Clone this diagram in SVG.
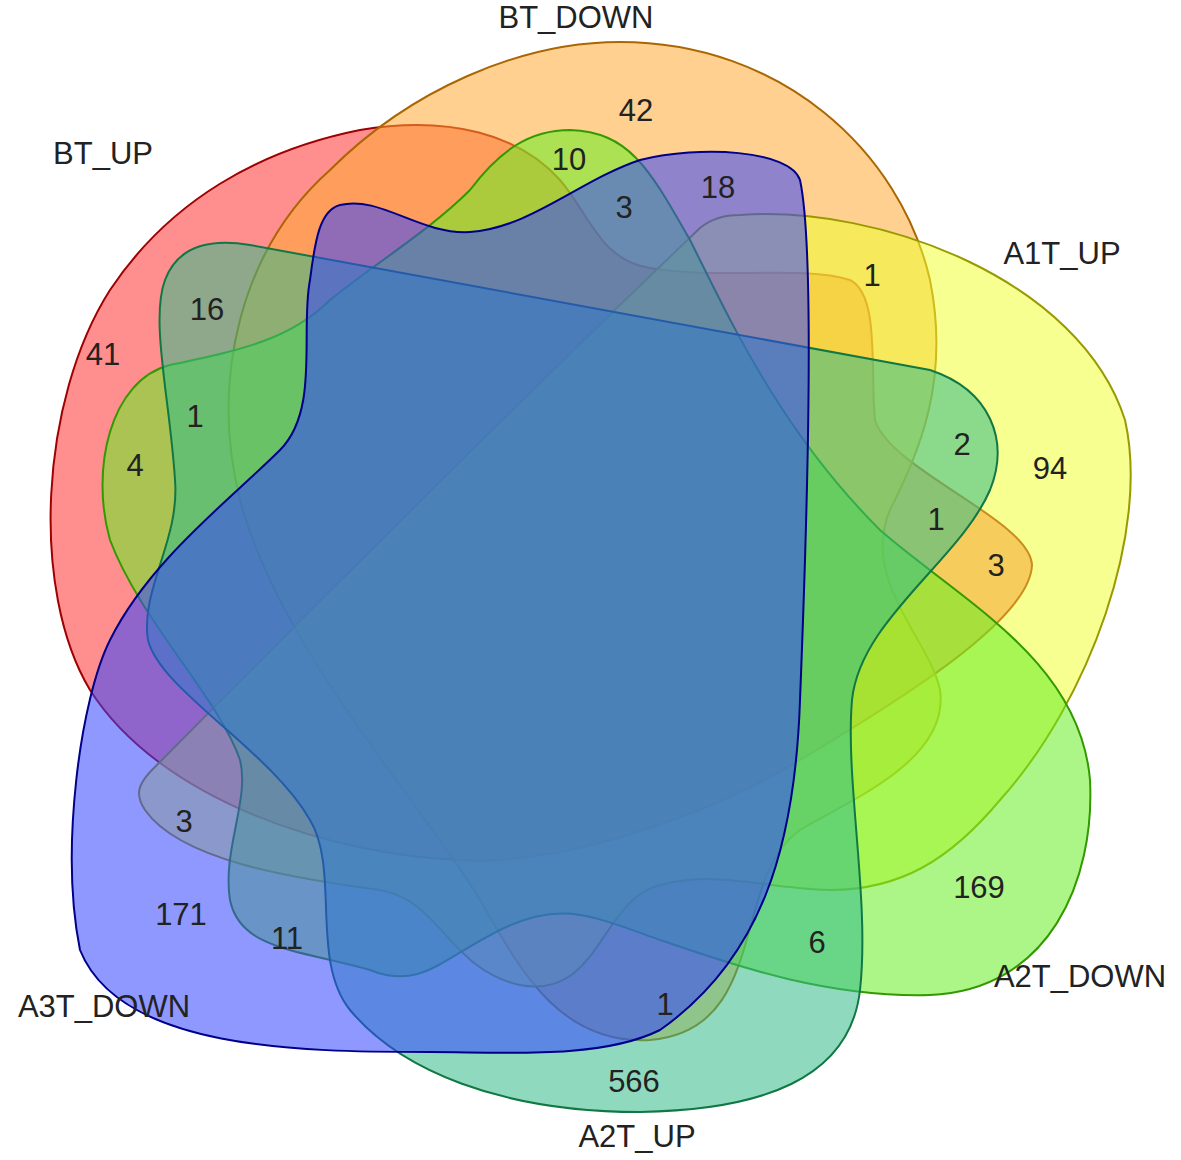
<svg xmlns="http://www.w3.org/2000/svg" width="1181" height="1160" viewBox="0 0 1181 1160">
<style>
.s{stroke-width:2;fill-opacity:0.55}
text{font-family:"Liberation Sans",Arial,sans-serif;font-size:31px;fill:#222;text-anchor:middle}
</style>
<rect width="1181" height="1160" fill="#fff"/>
<g id="BT_UP"><path class="s" fill="#ff3333" stroke="#a00000" d="M 360 130 C 450 115 520 135 560 180 C 590 215 600 260 650 268 C 720 280 800 265 850 280 C 880 295 870 370 875 420 C 890 470 1030 520 1032 565 C 1030 620 900 700 800 760 C 700 820 560 865 460 860 C 330 855 160 800 90 690 C 30 590 40 400 110 290 C 170 200 260 150 360 130 Z"/></g>
<g id="BT_DOWN"><path class="s" fill="#ffaa33" stroke="#aa6600" d="M 620 42 C 780 42 900 150 930 280 C 950 380 920 450 890 510 C 860 580 930 640 940 690 C 950 760 850 800 800 830 C 730 880 770 1030 650 1040 C 560 1045 520 970 480 900 C 420 800 280 650 240 500 C 210 380 240 250 330 170 C 410 90 520 42 620 42 Z"/></g>
<g id="A1T_UP"><path class="s" fill="#eeff33" stroke="#999900" d="M 740 215 C 880 205 1080 280 1125 420 C 1150 530 1090 700 1000 800 C 950 860 900 890 830 890 C 760 888 720 870 660 885 C 600 900 600 1000 520 985 C 450 970 440 900 380 890 C 290 878 180 860 145 810 C 135 795 138 785 150 772 C 330 590 520 400 700 228 C 712 218 725 215 740 215 Z"/></g>
<g id="A2T_DOWN"><path class="s" fill="#66ee22" stroke="#339900" d="M 470 190 C 500 150 530 130 570 130 C 630 132 650 170 690 240 C 730 320 780 430 880 530 C 960 600 1080 660 1090 780 C 1095 880 1050 990 930 995 C 820 998 720 960 660 940 C 590 915 560 900 500 930 C 440 960 420 990 370 970 C 300 950 240 950 230 900 C 222 850 250 800 240 760 C 220 700 140 620 110 540 C 90 470 110 380 170 365 C 240 350 290 340 330 300 C 380 260 430 230 470 190 Z"/></g>
<g id="A2T_UP"><path class="s" fill="#33bb88" stroke="#117744" d="M 250 245 L 930 370 C 990 390 1010 440 990 490 C 960 560 860 620 852 700 C 845 780 870 900 860 990 C 850 1080 760 1110 640 1112 C 500 1112 400 1070 350 1010 C 310 960 340 870 310 820 C 270 750 160 690 148 640 C 140 590 180 540 175 480 C 170 400 150 320 165 280 C 180 240 220 240 250 245 Z"/></g>
<g id="A3T_DOWN"><path class="s" fill="#3344ff" stroke="#000088" d="M 340 205 C 380 195 420 235 470 232 C 530 228 580 180 640 160 C 700 145 790 150 800 180 C 815 250 808 500 800 700 C 795 850 760 960 660 1030 C 600 1060 500 1052 430 1052 C 300 1052 120 1050 80 950 C 60 850 80 700 110 640 C 150 560 230 500 280 450 C 320 410 300 330 310 280 C 315 240 320 210 340 205 Z"/></g>
<g id="labels">
<text x="576" y="28">BT_DOWN</text>
<text x="103" y="164">BT_UP</text>
<text x="1062" y="264">A1T_UP</text>
<text x="1080" y="987">A2T_DOWN</text>
<text x="104" y="1017">A3T_DOWN</text>
<text x="637" y="1147">A2T_UP</text>
<text x="636" y="121">42</text>
<text x="569" y="170">10</text>
<text x="718" y="198">18</text>
<text x="624" y="218">3</text>
<text x="872" y="286">1</text>
<text x="207" y="320">16</text>
<text x="103" y="365">41</text>
<text x="195" y="427">1</text>
<text x="135" y="476">4</text>
<text x="962" y="455">2</text>
<text x="1050" y="479">94</text>
<text x="936" y="530">1</text>
<text x="996" y="576">3</text>
<text x="184" y="832">3</text>
<text x="181" y="925">171</text>
<text x="287" y="949">11</text>
<text x="979" y="898">169</text>
<text x="817" y="953">6</text>
<text x="665" y="1015">1</text>
<text x="634" y="1092">566</text>
</g>
</svg>
